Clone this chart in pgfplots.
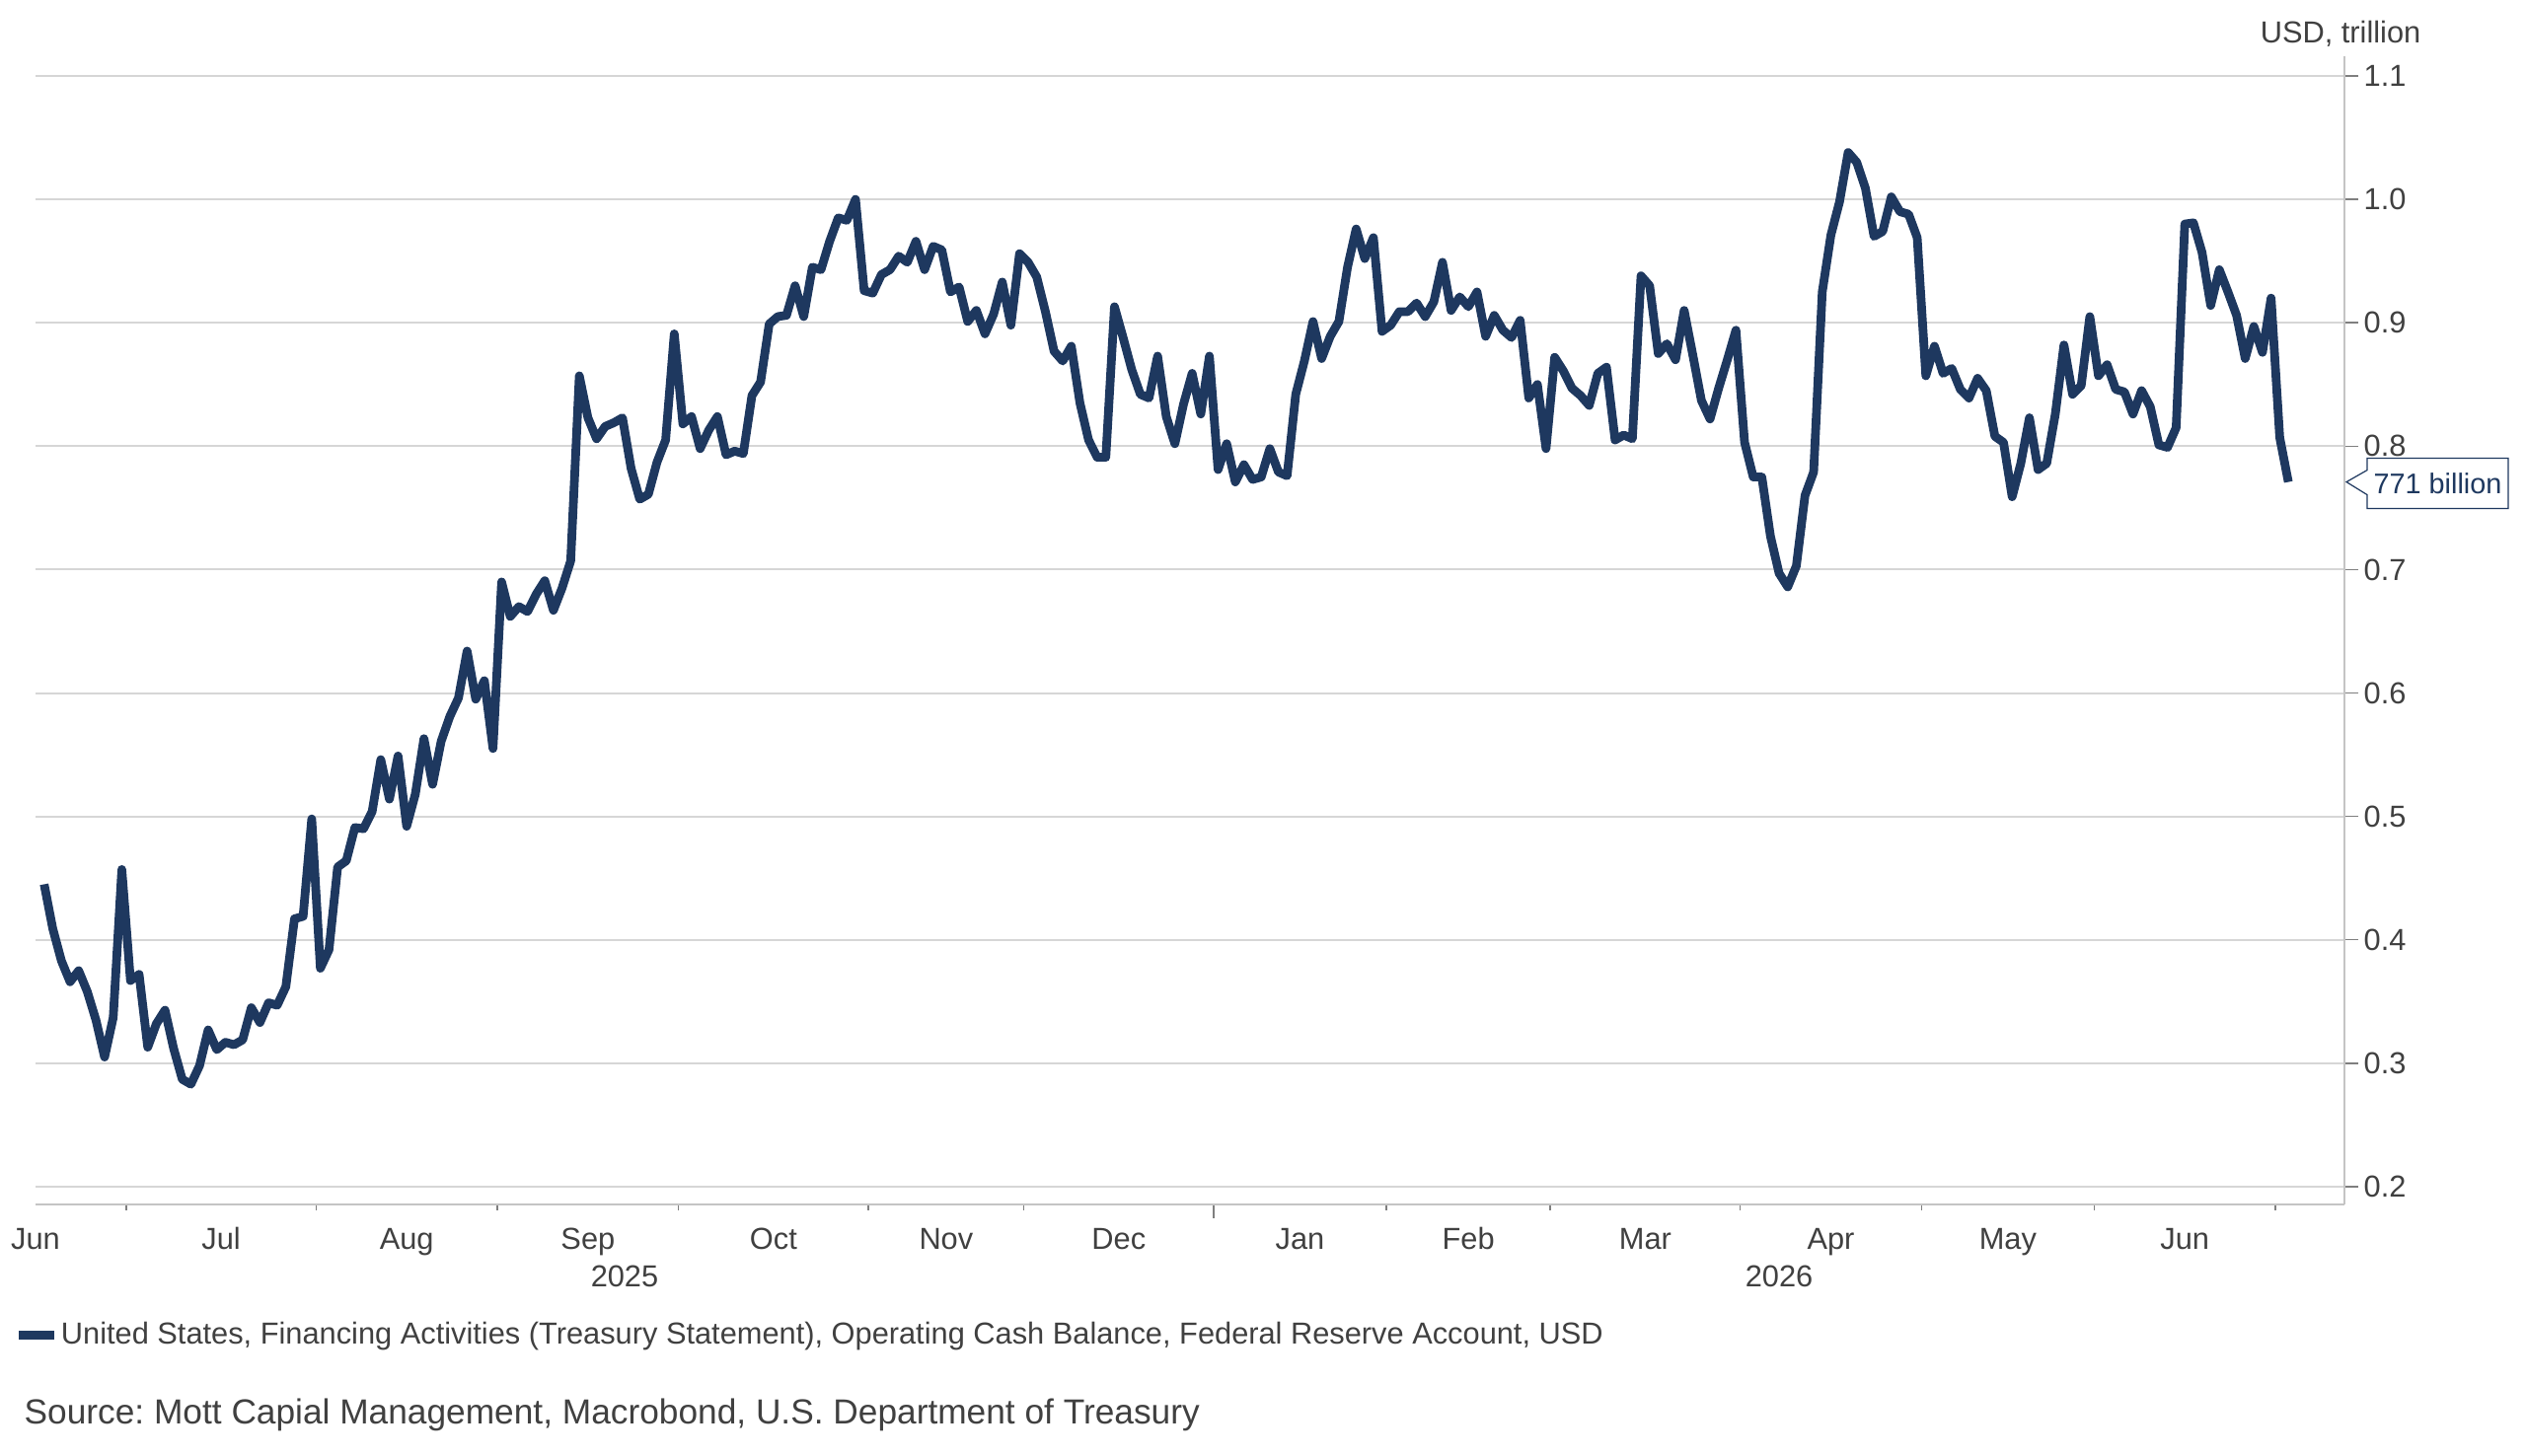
\documentclass[border=0pt]{standalone}
\usepackage{pgfplots}
\pgfplotsset{compat=1.18}
\usepackage{pgfplotstable}
\usepackage{fontspec}
\setmainfont{Liberation Sans}
\frenchspacing
\definecolor{navy}{HTML}{1E385F}
\definecolor{txt}{HTML}{404040}
\definecolor{gridc}{HTML}{D6D6D6}
\definecolor{axl}{HTML}{C4C4C4}
\definecolor{tk}{HTML}{7F7F7F}

\pgfplotstableread{
x y
-9.5 0.445
-8.5 0.409
-7.5 0.383
-6.5 0.366
-5.5 0.375
-4.5 0.358
-3.5 0.335
-2.5 0.305
-1.5 0.337
-0.5 0.457
0.5 0.367
1.5 0.372
2.5 0.313
3.5 0.332
4.5 0.343
5.5 0.312
6.5 0.287
7.5 0.283
8.5 0.298
9.5 0.327
10.5 0.311
11.5 0.317
12.5 0.315
13.5 0.319
14.5 0.345
15.5 0.333
16.5 0.349
17.5 0.347
18.5 0.362
19.5 0.417
20.5 0.419
21.5 0.498
22.5 0.377
23.5 0.392
24.5 0.459
25.5 0.464
26.5 0.491
27.5 0.490
28.5 0.504
29.5 0.546
30.5 0.514
31.5 0.549
32.5 0.492
33.5 0.518
34.5 0.563
35.5 0.526
36.5 0.561
37.5 0.581
38.5 0.596
39.5 0.634
40.5 0.595
41.5 0.610
42.5 0.555
43.5 0.690
44.5 0.662
45.5 0.670
46.5 0.666
47.5 0.680
48.5 0.691
49.5 0.667
50.5 0.685
51.5 0.707
52.5 0.857
53.5 0.823
54.5 0.806
55.5 0.816
56.5 0.819
57.5 0.823
58.5 0.782
59.5 0.757
60.5 0.761
61.5 0.787
62.5 0.805
63.5 0.891
64.5 0.818
65.5 0.824
66.5 0.798
67.5 0.813
68.5 0.824
69.5 0.793
70.5 0.796
71.5 0.794
72.5 0.841
73.5 0.852
74.5 0.899
75.5 0.905
76.5 0.906
77.5 0.930
78.5 0.905
79.5 0.945
80.5 0.943
81.5 0.966
82.5 0.985
83.5 0.983
84.5 1.000
85.5 0.926
86.5 0.924
87.5 0.939
88.5 0.943
89.5 0.954
90.5 0.949
91.5 0.966
92.5 0.943
93.5 0.962
94.5 0.959
95.5 0.925
96.5 0.929
97.5 0.901
98.5 0.910
99.5 0.891
100.5 0.907
101.5 0.933
102.5 0.898
103.5 0.956
104.5 0.949
105.5 0.937
106.5 0.909
107.5 0.877
108.5 0.869
109.5 0.881
110.5 0.835
111.5 0.805
112.5 0.791
113.5 0.791
114.5 0.913
115.5 0.888
116.5 0.862
117.5 0.842
118.5 0.839
119.5 0.873
120.5 0.824
121.5 0.802
122.5 0.834
123.5 0.859
124.5 0.826
125.5 0.873
126.5 0.781
127.5 0.802
128.5 0.771
129.5 0.785
130.5 0.773
131.5 0.775
132.5 0.798
133.5 0.779
134.5 0.776
135.5 0.842
136.5 0.869
137.5 0.901
138.5 0.871
139.5 0.889
140.5 0.901
141.5 0.945
142.5 0.976
143.5 0.952
144.5 0.969
145.5 0.893
146.5 0.898
147.5 0.909
148.5 0.909
149.5 0.916
150.5 0.905
151.5 0.917
152.5 0.949
153.5 0.910
154.5 0.921
155.5 0.913
156.5 0.925
157.5 0.889
158.5 0.906
159.5 0.894
160.5 0.888
161.5 0.902
162.5 0.839
163.5 0.850
164.5 0.798
165.5 0.872
166.5 0.861
167.5 0.847
168.5 0.841
169.5 0.833
170.5 0.859
171.5 0.864
172.5 0.805
173.5 0.809
174.5 0.806
175.5 0.938
176.5 0.930
177.5 0.875
178.5 0.883
179.5 0.870
180.5 0.910
181.5 0.874
182.5 0.837
183.5 0.822
184.5 0.847
185.5 0.870
186.5 0.894
187.5 0.803
188.5 0.775
189.5 0.775
190.5 0.727
191.5 0.697
192.5 0.686
193.5 0.703
194.5 0.760
195.5 0.779
196.5 0.925
197.5 0.971
198.5 0.998
199.5 1.038
200.5 1.030
201.5 1.009
202.5 0.970
203.5 0.974
204.5 1.002
205.5 0.990
206.5 0.988
207.5 0.969
208.5 0.857
209.5 0.881
210.5 0.859
211.5 0.863
212.5 0.846
213.5 0.839
214.5 0.855
215.5 0.845
216.5 0.808
217.5 0.803
218.5 0.759
219.5 0.786
220.5 0.823
221.5 0.781
222.5 0.786
223.5 0.826
224.5 0.882
225.5 0.842
226.5 0.849
227.5 0.905
228.5 0.857
229.5 0.866
230.5 0.846
231.5 0.844
232.5 0.826
233.5 0.845
234.5 0.832
235.5 0.801
236.5 0.799
237.5 0.815
238.5 0.980
239.5 0.981
240.5 0.957
241.5 0.914
242.5 0.943
243.5 0.925
244.5 0.906
245.5 0.871
246.5 0.897
247.5 0.876
248.5 0.920
249.5 0.807
250.5 0.771
}\tga

\newcommand{\lblfont}{\fontsize{8.76pt}{10pt}\selectfont}

\begin{document}
\begin{tikzpicture}
\useasboundingbox (0,0) rectangle (25.6cm,14.76cm);
\begin{axis}[
  at={(0.36cm,2.55cm)}, anchor=south west,
  width=23.40cm, height=11.64cm, scale only axis,
  xmin=-10.5, xmax=257, ymin=0.1856, ymax=1.116,
  clip=false,
  axis x line*=bottom, axis y line*=right,
  axis line style={-, draw=axl, line width=0.2mm},
  tick align=outside,
  tick style={draw=tk, line width=0.15mm},
  major tick length=0.14cm,
  minor tick length=0.06cm,
  ytick={0.2,0.3,0.4,0.5,0.6,0.7,0.8,0.9,1.0,1.1},
  yticklabel style={anchor=west, inner sep=0pt, xshift=0.05cm, font=\lblfont, text=txt,
    /pgf/number format/fixed, /pgf/number format/fixed zerofill,
    /pgf/number format/precision=1, /pgf/number format/assume math mode=true},
  ymajorgrids, grid style={draw=gridc, line width=0.2mm},
  xtick={126}, xticklabels={},
  minor xtick={0,22,43,64,86,104,146,165,187,208,228,249},
  extra x ticks={-10.5,11,32.5,53.5,75,95,115,136,155.5,176,197.5,218,238.5},
  extra x tick labels={Jun,Jul,Aug,Sep,Oct,Nov,Dec,Jan,Feb,Mar,Apr,May,Jun},
  extra x tick style={major tick length=0pt, tick style={draw=none}},
  xticklabel style={anchor=base, inner sep=0pt, yshift=-0.46cm, font=\lblfont, text=txt},
  legend style={at={(-0.0090,-0.11426)}, anchor=west, draw=none, fill=none,
    inner sep=0pt, outer sep=0pt, font=\lblfont, text=txt,
    nodes={inner sep=0pt}, column sep=0.02cm},
  legend cell align=left,
  legend image code/.code={\draw[line width=0.09cm] (0cm,0cm) -- (0.36cm,0cm);},
]
\addplot[navy, line width=0.088cm, line join=round] table[x=x,y=y]{\tga};
\addlegendentry{United States, Financing Activities (Treasury Statement), Operating Cash Balance, Federal Reserve Account, USD}
\coordinate (t) at (axis cs:257,0.771);
\end{axis}
\draw[navy, line width=0.12mm, fill=white] ([xshift=0.02cm]t)
  -- ++(0.21cm,0.12cm) -- ++(0,0.12cm) -- ++(1.43cm,0) -- ++(0,-0.51cm)
  -- ++(-1.43cm,0) -- ++(0,0.14cm) -- cycle;
\node[text=navy, font=\fontsize{8.2pt}{10pt}\selectfont, inner sep=0pt] at ([xshift=0.945cm,yshift=-0.015cm]t) {771 billion};
\node[anchor=base east, inner sep=0pt, text=txt, font=\lblfont] at (24.54cm,14.32cm) {USD, trillion};
\node[anchor=base, inner sep=0pt, text=txt, font=\lblfont] at (6.33cm,1.71cm) {2025};
\node[anchor=base, inner sep=0pt, text=txt, font=\lblfont] at (18.03cm,1.71cm) {2026};
\node[anchor=base west, inner sep=0pt, text=txt, font=\fontsize{10.04pt}{12pt}\selectfont] at (0.24cm,0.32cm) {Source: Mott Capial Management, Macrobond, U.S. Department of Treasury};
\end{tikzpicture}
\end{document}
